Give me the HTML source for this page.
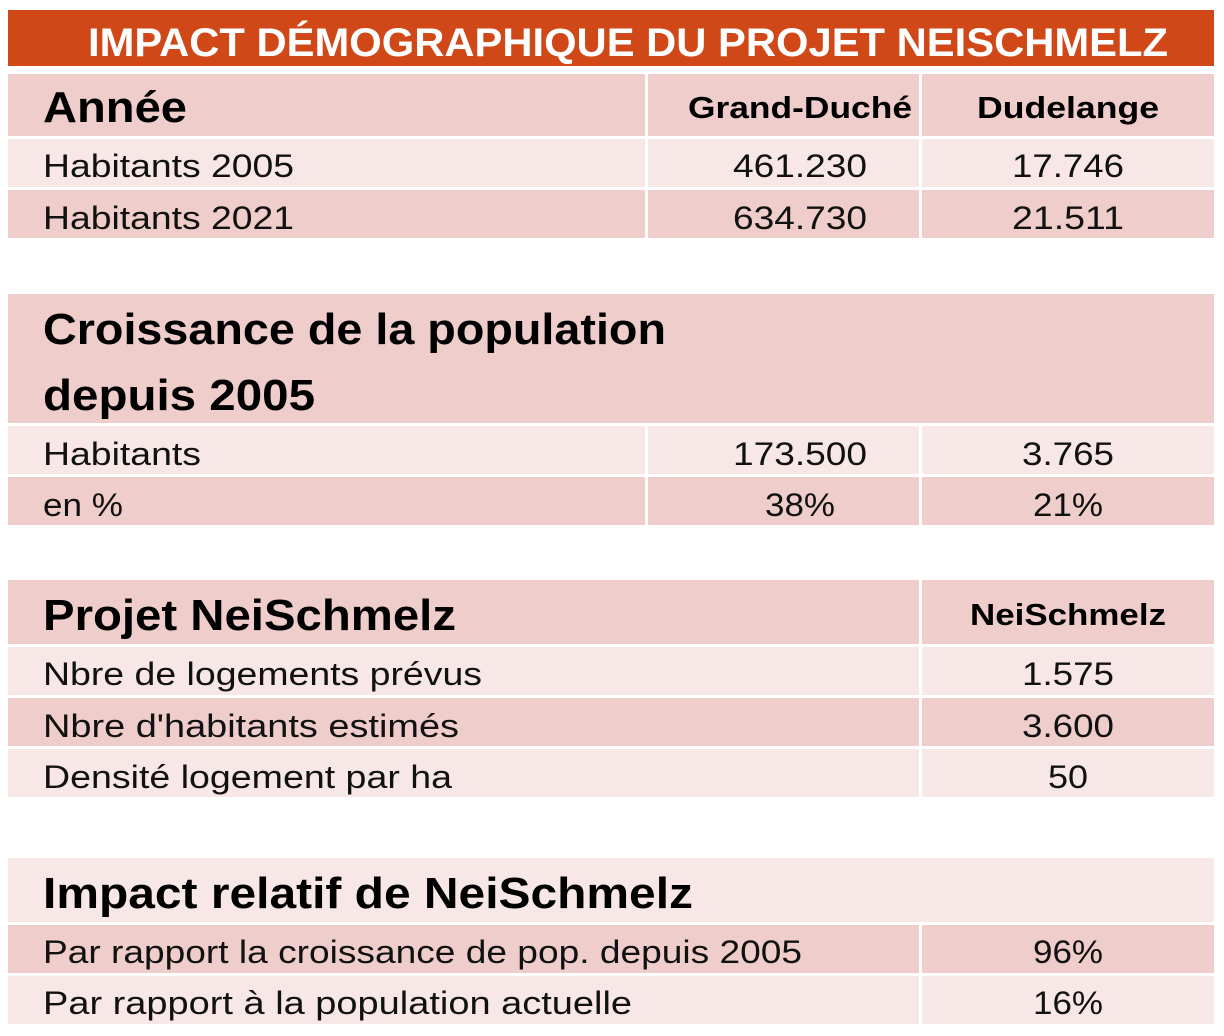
<!DOCTYPE html>
<html><head><meta charset="utf-8"><style>html,body{margin:0;padding:0;background:#fff}svg{display:block}</style></head>
<body>
<svg width="1224" height="1036" viewBox="0 0 1224 1036" xmlns="http://www.w3.org/2000/svg" font-family="Liberation Sans, sans-serif">
<rect x="8" y="10" width="1206" height="56" fill="#D14818"/>
<text x="628" y="56" fill="#fff" font-weight="bold" font-size="40" text-anchor="middle" textLength="1080" lengthAdjust="spacingAndGlyphs">IMPACT DÉMOGRAPHIQUE DU PROJET NEISCHMELZ</text>
<g fill="#EECDCA">
<rect x="8" y="74" width="637" height="62"/><rect x="648" y="74" width="271" height="62"/><rect x="922" y="74" width="292" height="62"/>
<rect x="8" y="190" width="637" height="48"/><rect x="648" y="190" width="271" height="48"/><rect x="922" y="190" width="292" height="48"/>
<rect x="8" y="294" width="1206" height="129"/>
<rect x="8" y="477" width="637" height="48"/><rect x="648" y="477" width="271" height="48"/><rect x="922" y="477" width="292" height="48"/>
<rect x="8" y="580" width="911" height="64"/><rect x="922" y="580" width="292" height="64"/>
<rect x="8" y="698" width="911" height="48"/><rect x="922" y="698" width="292" height="48"/>
<rect x="8" y="925" width="911" height="48"/><rect x="922" y="925" width="292" height="48"/>
</g>
<g fill="#F7E7E6">
<rect x="8" y="139" width="637" height="48"/><rect x="648" y="139" width="271" height="48"/><rect x="922" y="139" width="292" height="48"/>
<rect x="8" y="426" width="637" height="48"/><rect x="648" y="426" width="271" height="48"/><rect x="922" y="426" width="292" height="48"/>
<rect x="8" y="647" width="911" height="48"/><rect x="922" y="647" width="292" height="48"/>
<rect x="8" y="749" width="911" height="48"/><rect x="922" y="749" width="292" height="48"/>
<rect x="8" y="858" width="1206" height="64"/>
<rect x="8" y="976" width="911" height="48"/><rect x="922" y="976" width="292" height="48"/>
</g>
<g fill="#000" font-weight="bold">
<text x="43" y="122" font-size="44" textLength="144" lengthAdjust="spacingAndGlyphs">Année</text>
<text x="800" y="118" font-size="31" text-anchor="middle" textLength="224" lengthAdjust="spacingAndGlyphs">Grand-Duché</text>
<text x="1068" y="118" font-size="31" text-anchor="middle" textLength="182" lengthAdjust="spacingAndGlyphs">Dudelange</text>
<text x="43" y="344" font-size="44" textLength="623" lengthAdjust="spacingAndGlyphs">Croissance de la population</text>
<text x="43" y="410" font-size="44" textLength="272" lengthAdjust="spacingAndGlyphs">depuis 2005</text>
<text x="43" y="630" font-size="44" textLength="413" lengthAdjust="spacingAndGlyphs">Projet NeiSchmelz</text>
<text x="1068" y="625" font-size="31" text-anchor="middle" textLength="196" lengthAdjust="spacingAndGlyphs">NeiSchmelz</text>
<text x="43" y="908" font-size="44" textLength="650" lengthAdjust="spacingAndGlyphs">Impact relatif de NeiSchmelz</text>
</g>
<g fill="#111" font-size="32">
<text x="43" y="177" textLength="251" lengthAdjust="spacingAndGlyphs">Habitants 2005</text>
<text x="800" y="177" text-anchor="middle" textLength="134" lengthAdjust="spacingAndGlyphs">461.230</text>
<text x="1068" y="177" text-anchor="middle" textLength="112" lengthAdjust="spacingAndGlyphs">17.746</text>
<text x="43" y="229" textLength="251" lengthAdjust="spacingAndGlyphs">Habitants 2021</text>
<text x="800" y="229" text-anchor="middle" textLength="134" lengthAdjust="spacingAndGlyphs">634.730</text>
<text x="1068" y="229" text-anchor="middle" textLength="112" lengthAdjust="spacingAndGlyphs">21.511</text>
<text x="43" y="465" textLength="158" lengthAdjust="spacingAndGlyphs">Habitants</text>
<text x="800" y="465" text-anchor="middle" textLength="134" lengthAdjust="spacingAndGlyphs">173.500</text>
<text x="1068" y="465" text-anchor="middle" textLength="92" lengthAdjust="spacingAndGlyphs">3.765</text>
<text x="43" y="516" textLength="80" lengthAdjust="spacingAndGlyphs">en %</text>
<text x="800" y="516" text-anchor="middle" textLength="70" lengthAdjust="spacingAndGlyphs">38%</text>
<text x="1068" y="516" text-anchor="middle" textLength="70" lengthAdjust="spacingAndGlyphs">21%</text>
<text x="43" y="685" textLength="439" lengthAdjust="spacingAndGlyphs">Nbre de logements prévus</text>
<text x="1068" y="685" text-anchor="middle" textLength="92" lengthAdjust="spacingAndGlyphs">1.575</text>
<text x="43" y="737" textLength="416" lengthAdjust="spacingAndGlyphs">Nbre d'habitants estimés</text>
<text x="1068" y="737" text-anchor="middle" textLength="92" lengthAdjust="spacingAndGlyphs">3.600</text>
<text x="43" y="788" textLength="409" lengthAdjust="spacingAndGlyphs">Densité logement par ha</text>
<text x="1068" y="788" text-anchor="middle" textLength="40" lengthAdjust="spacingAndGlyphs">50</text>
<text x="43" y="963" textLength="759" lengthAdjust="spacingAndGlyphs">Par rapport la croissance de pop. depuis 2005</text>
<text x="1068" y="963" text-anchor="middle" textLength="70" lengthAdjust="spacingAndGlyphs">96%</text>
<text x="43" y="1014" textLength="589" lengthAdjust="spacingAndGlyphs">Par rapport à la population actuelle</text>
<text x="1068" y="1014" text-anchor="middle" textLength="70" lengthAdjust="spacingAndGlyphs">16%</text>
</g>
</svg>
</body></html>
